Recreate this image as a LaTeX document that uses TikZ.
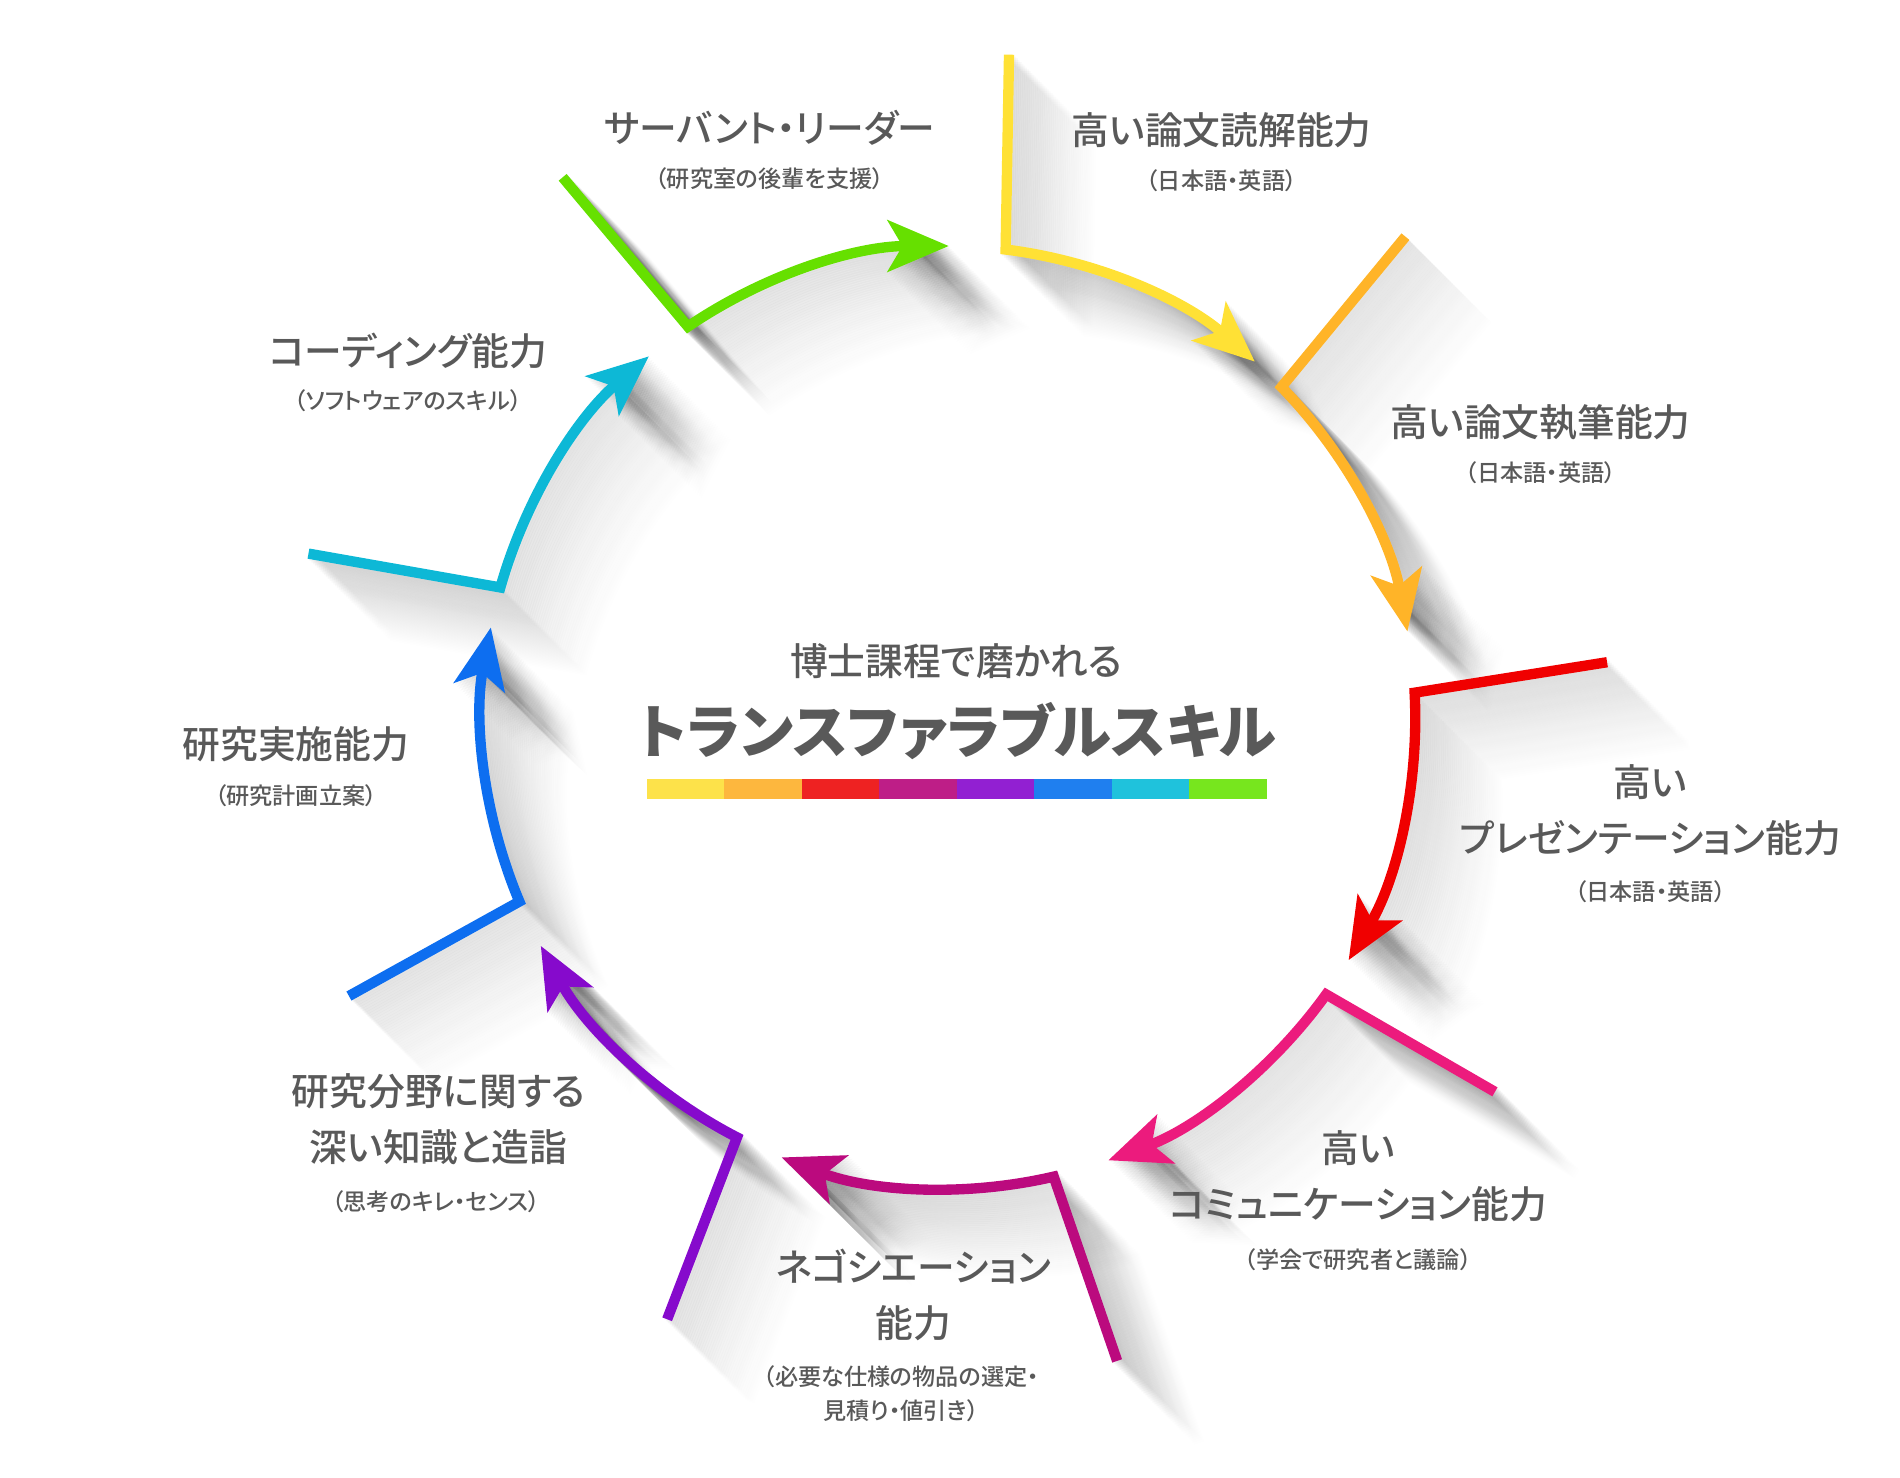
\documentclass[tikz,border=0pt]{standalone}
\usepackage{fontspec}
\setmainfont{Noto Sans CJK JP Medium}[RawFeature=+palt]
\newfontfamily\heavyfont{Noto Sans CJK JP Black}[RawFeature=+palt]
\usetikzlibrary{arrows.meta,calc}

\definecolor{txtgray}{HTML}{595959}
\definecolor{cyellow}{HTML}{FFE135}
\definecolor{corange}{HTML}{FFB428}
\definecolor{cred}{HTML}{F00000}
\definecolor{cpink}{HTML}{EC1B7D}
\definecolor{cmagenta}{HTML}{BB0A7E}
\definecolor{cpurple}{HTML}{860ACC}
\definecolor{cblue}{HTML}{0D6EF0}
\definecolor{ccyan}{HTML}{0DB8D6}
\definecolor{cgreen}{HTML}{66E000}
\definecolor{bar1}{HTML}{FDE24A}
\definecolor{bar2}{HTML}{FDB73E}
\definecolor{bar3}{HTML}{EE2222}
\definecolor{bar4}{HTML}{BE1E87}
\definecolor{bar5}{HTML}{9220D2}
\definecolor{bar6}{HTML}{1F7FEF}
\definecolor{bar7}{HTML}{1FC2DC}
\definecolor{bar8}{HTML}{77E61E}

\tikzstyle{loopseg}=[line width=8.5pt,line join=miter,-{Stealth[length=50pt,width=42pt,inset=12pt]}]
\tikzstyle{skill}=[text=txtgray,align=center,inner sep=0pt,font=\fontsize{31}{46}\selectfont]
\tikzstyle{note}=[text=txtgray,align=center,inner sep=0pt,font=\fontsize{19}{28}\selectfont]

\begin{document}
\begin{tikzpicture}[x=1pt,y=1pt]
    \useasboundingbox (-778,-618) rectangle (782,595);
    \coordinate (o) at (1,6);

    % corners on the ring and free ends of the tails
    \foreach \a [count=\i from 0] in {83,44.5,3,-36,-77,-117,-157,-196,-236}{
        \coordinate (c\i) at ($(o)+(\a:383 and 387)$);
        \coordinate (t\i) at ($(c\i)+(\a+6:160)$);
    }

    % long shadows
    \foreach \a [count=\i from 0] in {83,44.5,3,-36,-77,-117,-157,-196,-236}{
        \foreach \k in {1,...,48}{
            \pgfmathsetmacro\op{0.028*(1-\k/49)}
            \draw[loopseg,black,opacity=\op] ($(t\i)+(1.5*\k,-1.5*\k)$) -- ($(c\i)+(1.5*\k,-1.5*\k)$)
                arc[start angle=\a,end angle=\a-34,x radius=383,y radius=387];
        }
    }

    \foreach \a/\col [count=\i from 0] in {83/cyellow,44.5/corange,3/cred,-36/cpink,-77/cmagenta,-117/cpurple,-157/cblue,-196/ccyan,-236/cgreen}{
        \draw[loopseg,\col] (t\i) -- (c\i) arc[start angle=\a,end angle=\a-34,x radius=383,y radius=387];
    }

    \node[skill] (servant) at (-146,490) {サーバント・リーダー};
    \node[note] (servantn) at (-146,448) {（研究室の後輩を支援）};
    \node[skill] (read) at (225,488) {高い論文読解能力};
    \node[note] (readn) at (225,447) {（日本語・英語）};
    \node[skill] (write) at (487,248) {高い論文執筆能力};
    \node[note] (writen) at (487,207) {（日本語・英語）};
    \node[skill] (present) at (577,-70) {高い\\プレゼンテーション能力};
    \node[note] (presentn) at (577,-137) {（日本語・英語）};
    \node[skill] (comm) at (337,-371) {高い\\コミュニケーション能力};
    \node[note] (commn) at (337,-439) {（学会で研究者と議論）};
    \node[skill] (nego) at (-28,-468) {ネゴシエーション\\能力};
    \node[note] (negon) at (-38,-549) {（必要な仕様の物品の選定・\\見積り・値引き）};
    \node[skill] (know) at (-418,-324) {研究分野に関する\\深い知識と造詣};
    \node[note] (known) at (-420,-392) {（思考のキレ・センス）};
    \node[skill] (research) at (-535,-16) {研究実施能力};
    \node[note] (researchn) at (-535,-58) {（研究計画立案）};
    \node[skill] (coding) at (-443,307) {コーディング能力};
    \node[note] (codingn) at (-443,266) {（ソフトウェアのスキル）};

    \node[skill] (phd) at (7,52) {博士課程で磨かれる};
    \node[text=txtgray,inner sep=0pt,font=\fontsize{48}{56}\heavyfont] (title) at (8,-5) {トランスファラブルスキル};
    \foreach \j/\col in {0/bar1,1/bar2,2/bar3,3/bar4,4/bar5,5/bar6,6/bar7,7/bar8}
        \fill[\col] (-247+63.6*\j,-45) rectangle ++(63.7,-16);
\end{tikzpicture}
\end{document}
